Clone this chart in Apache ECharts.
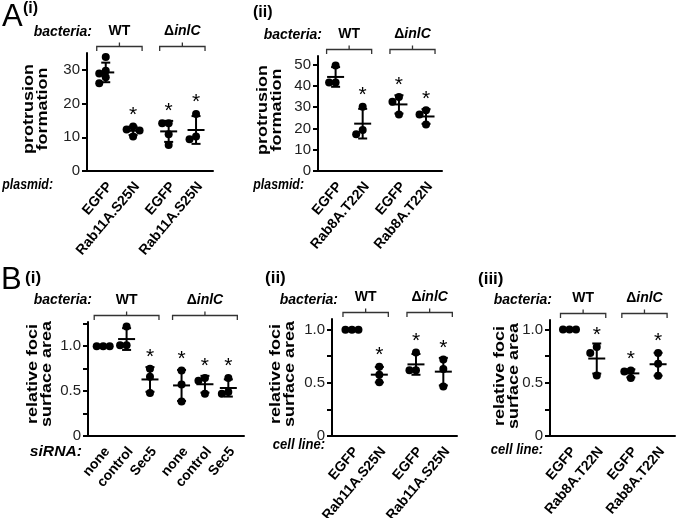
<!DOCTYPE html>
<html><head><meta charset="utf-8">
<script src="https://cdn.jsdelivr.net/npm/echarts@6/dist/echarts.min.js"></script>
<style>html,body{margin:0;padding:0;background:#fff}#c{width:677px;height:518px}</style>
</head><body><div id="c"></div>
<script>
// ---------------- data ----------------
const aiCategories = ['EGFP', 'Rab11A.S25N', 'EGFP', 'Rab11A.S25N'];
const aiValues = [[33.8, 29.7, 28.9, 27.8, 26.0], [13.2, 12.3, 12.0, 10.2], [14.2, 14.2, 10.9, 7.7], [16.9, 10.2, 9.4]];
const aiStars = [0, 1, 1, 1];
const aiYTicks = [0, 10, 20, 30];

const aiiCategories = ['EGFP', 'Rab8A.T22N', 'EGFP', 'Rab8A.T22N'];
const aiiValues = [[49.5, 41.5, 41.5], [30.2, 19.2, 17.3], [34.8, 32.5, 26.5], [28.5, 26.5, 21.8]];
const aiiStars = [0, 1, 1, 1];
const aiiYTicks = [0, 10, 20, 30, 40, 50];

const biCategories = ['none', 'control', 'Sec5', 'none', 'control', 'Sec5'];
const biValues = [[1, 1, 1], [1.22, 1.01, 1.01], [0.75, 0.66, 0.48], [0.73, 0.575, 0.385], [0.645, 0.615, 0.47], [0.645, 0.49, 0.47]];
const biStars = [0, 0, 1, 1, 1, 1];
const biYTicks = [0, 0.25, 0.5, 0.75, 1.0, 1.25];

const biiCategories = ['EGFP', 'Rab11A.S25N', 'EGFP', 'Rab11A.S25N'];
const biiValues = [[1, 1, 1], [0.65, 0.575, 0.505], [0.786, 0.617, 0.617], [0.72, 0.63, 0.465]];
const biiStars = [0, 1, 1, 1];

const biiiCategories = ['EGFP', 'Rab8A.T22N', 'EGFP', 'Rab8A.T22N'];
const biiiValues = [[1, 1, 1], [0.836, 0.78, 0.568], [0.615, 0.605, 0.545], [0.78, 0.678, 0.565]];
const biiiStars = [0, 1, 1, 1];

const bYTicks = [0, 0.25, 0.5, 0.75, 1.0];
const bYLabels = [0, 0.5, 1.0];
const bacteriaGroups = ['WT', 'ΔinlC'];
const yNameA = 'protrusion\nformation';
const yNameB = 'relative foci\nsurface area';

// ---------------- layout ----------------
const FONT = '"Liberation Sans", Arial, Helvetica, sans-serif';
const panels = [
  { cats: aiCategories, values: aiValues, stars: aiStars, yTicks: aiYTicks, yLabels: aiYTicks,
    left: 87, top: 53, width: 126, height: 118, xMin: 0.315, xMax: 4.92, yMax: 35,
    xPos: [1, 2, 3.3, 4.3], pairs: [[0, 1], [2, 3]], yName: yNameA, nameX: 36, nameY: 109 },
  { cats: aiiCategories, values: aiiValues, stars: aiiStars, yTicks: aiiYTicks, yLabels: aiiYTicks,
    left: 318, top: 56, width: 124, height: 115, xMin: 0.35, xMax: 4.93, yMax: 54,
    xPos: [1, 2, 3.34, 4.34], pairs: [[0, 1], [2, 3]], yName: yNameA, nameX: 270, nameY: 110 },
  { cats: biCategories, values: biValues, stars: biStars, yTicks: biYTicks, yLabels: bYLabels,
    left: 88, top: 322, width: 156, height: 114, xMin: 0.35, xMax: 7.02, yMax: 1.27,
    xPos: [1, 2, 3, 4.35, 5.35, 6.35], pairs: [[0, 2], [3, 5]], yName: yNameB, nameX: 40, nameY: 374 },
  { cats: biiCategories, values: biiValues, stars: biiStars, yTicks: bYTicks, yLabels: bYLabels,
    left: 332, top: 319, width: 125, height: 117, xMin: 0.27, xMax: 4.84, yMax: 1.1,
    xPos: [1, 2, 3.34, 4.34], pairs: [[0, 1], [2, 3]], yName: yNameB, nameX: 283, nameY: 374 },
  { cats: biiiCategories, values: biiiValues, stars: biiiStars, yTicks: bYTicks, yLabels: bYLabels,
    left: 550, top: 320, width: 125, height: 116, xMin: 0.285, xMax: 4.87, yMax: 1.09,
    xPos: [1, 2, 3.25, 4.25], pairs: [[0, 1], [2, 3]], yName: yNameB, nameX: 507, nameY: 376 }
];
const LABEL_SHIFT_PX = 4;

function mean(a) { return a.reduce((s, v) => s + v, 0) / a.length; }
function sd(a) { const m = mean(a); return Math.sqrt(a.reduce((s, v) => s + (v - m) * (v - m), 0) / (a.length - 1)); }

// simple swarm layout so coincident dots sit side by side
function swarm(vals, xc, p) {
  const sx = p.width / (p.xMax - p.xMin), sy = p.height / p.yMax, d = 6.5;
  const placed = [], out = [];
  vals.slice().sort((a, b) => b - a).forEach(v => {
    const py = v * sy;
    let chosen = 0;
    for (const c of [0, -d, d, -2 * d, 2 * d]) {
      if (placed.every(q => Math.hypot(q[0] - c, q[1] - py) >= d * 0.95)) { chosen = c; break; }
    }
    placed.push([chosen, py]);
    out.push([xc + chosen / sx, v]);
  });
  return out;
}

const grids = [], xAxes = [], yAxes = [], series = [], graphic = [];
panels.forEach((p, i) => {
  const sx = p.width / (p.xMax - p.xMin);
  const labelPos = p.xPos.map(x => x + LABEL_SHIFT_PX / sx);
  grids.push({ left: p.left, top: p.top, width: p.width, height: p.height, containLabel: false, outerBoundsMode: 'none' });
  xAxes.push({
    type: 'value', gridIndex: i, min: p.xMin, max: p.xMax,
    axisLine: { show: true, lineStyle: { color: '#000', width: 2 } },
    axisTick: { show: false },
    splitLine: { show: false },
    axisLabel: {
      customValues: labelPos, rotate: 50, margin: 13, color: '#000', fontWeight: 'bold', fontSize: 14, fontFamily: FONT,
      formatter: v => { let k = 0; labelPos.forEach((x, j) => { if (Math.abs(x - v) < Math.abs(labelPos[k] - v)) k = j; }); return p.cats[k]; }
    }
  });
  yAxes.push({
    type: 'value', gridIndex: i, min: 0, max: p.yMax,
    axisLine: { show: true, lineStyle: { color: '#000', width: 2 } },
    axisTick: { show: true, customValues: p.yTicks, length: 5, lineStyle: { color: '#000', width: 2 } },
    splitLine: { show: false },
    axisLabel: {
      customValues: p.yLabels, margin: 7, color: '#222', fontSize: 15, fontFamily: FONT,
      formatter: v => (v === 0 ? '0' : (p.yMax < 5 ? v.toFixed(1) : String(v)))
    }
  });
  // y-axis title (compact, rotated)
  graphic.push({ type: 'text', x: p.nameX, y: p.nameY, rotation: Math.PI / 2, scaleY: 0.8, silent: true,
    style: { text: p.yName, font: 'bold 18px ' + FONT, lineHeight: 18, fill: '#000', align: 'center', verticalAlign: 'middle' } });
  // dots
  const pts = [];
  p.values.forEach((vals, g) => swarm(vals, p.xPos[g], p).forEach(q => pts.push(q)));
  series.push({ type: 'scatter', xAxisIndex: i, yAxisIndex: i, data: pts, symbolSize: 8,
    itemStyle: { color: '#000', opacity: 1 }, z: 3, silent: true });
  // mean ± SD + significance star
  series.push({
    type: 'custom', xAxisIndex: i, yAxisIndex: i, clip: false, z: 4, silent: true,
    data: p.values.map((vals, g) => [p.xPos[g], mean(vals), sd(vals), Math.max(...vals), p.stars[g]]),
    renderItem: (params, api) => {
      const x = api.value(0), m = api.value(1), s = api.value(2), mx = api.value(3), st = api.value(4);
      const pm = api.coord([x, m]), pt = api.coord([x, m + s]), pb = api.coord([x, m - s]), pmax = api.coord([x, mx]);
      const style = { stroke: '#000', lineWidth: 2, fill: null };
      const ch = [
        { type: 'line', shape: { x1: pm[0], y1: pt[1], x2: pm[0], y2: pb[1] }, style },
        { type: 'line', shape: { x1: pm[0] - 4.5, y1: pt[1], x2: pm[0] + 4.5, y2: pt[1] }, style },
        { type: 'line', shape: { x1: pm[0] - 4.5, y1: pb[1], x2: pm[0] + 4.5, y2: pb[1] }, style },
        { type: 'line', shape: { x1: pm[0] - 8.5, y1: pm[1], x2: pm[0] + 8.5, y2: pm[1] }, style }
      ];
      if (st) {
        const top = Math.min(pt[1], pmax[1] - 4);
        ch.push({ type: 'text', style: { text: '*', x: pm[0], y: top + 3, align: 'center', verticalAlign: 'bottom',
          font: '21px ' + FONT, fill: '#000' } });
      }
      return { type: 'group', children: ch };
    }
  });
  // bacteria brackets
  series.push({
    type: 'custom', xAxisIndex: i, yAxisIndex: i, clip: false, z: 4, silent: true,
    data: p.pairs.map((pr, k) => [p.xPos[pr[0]], p.xPos[pr[1]], k]),
    renderItem: (params, api) => {
      const a = api.coord([api.value(0), p.yMax]), b = api.coord([api.value(1), p.yMax]);
      const k = api.value(2);
      const y = a[1] - 6.5, x1 = a[0] - 9, x2 = b[0] + 9, xc = (x1 + x2) / 2;
      const style = { stroke: '#333', lineWidth: 1.3, fill: null };
      const lbl = bacteriaGroups[k];
      const text = k === 1 ? '{d|Δ}{i|' + lbl.slice(1) + '}' : '{b|' + lbl + '}';
      return { type: 'group', children: [
        { type: 'polyline', shape: { points: [[x1, y + 4.5], [x1, y], [x2, y], [x2, y + 4.5]] }, style },
        { type: 'line', shape: { x1: xc, y1: y, x2: xc, y2: y - 4 }, style },
        { type: 'text', style: { text, x: xc, y: y - 15, align: 'center', verticalAlign: 'middle',
          rich: {
            b: { font: 'bold 14px ' + FONT, fill: '#000' },
            d: { font: 'bold 14px ' + FONT, fill: '#000' },
            i: { font: 'italic bold 14px ' + FONT, fill: '#000' }
          } } }
      ] };
    }
  });
});

function txt(text, x, y, font, align, sx) {
  return { type: 'text', x, y, scaleX: sx || 1, silent: true,
    style: { text, font: font + ' ' + FONT, fill: '#000', align: align || 'left', verticalAlign: 'middle' } };
}
graphic.push(
  txt('A', 2, 17, '31px'), txt('(i)', 23, 9, 'bold 16px'),
  txt('(ii)', 253, 13, 'bold 16px'),
  txt('B', 1, 280, '31px'), txt('(i)', 25, 278, 'bold 17px'),
  txt('(ii)', 265, 278, 'bold 17px'),
  txt('(iii)', 478, 279, 'bold 17px'),
  txt('bacteria:', 92, 32, 'italic bold 14px', 'right'),
  txt('bacteria:', 322, 35, 'italic bold 14px', 'right'),
  txt('bacteria:', 92, 300, 'italic bold 14px', 'right'),
  txt('bacteria:', 338, 300, 'italic bold 14px', 'right'),
  txt('bacteria:', 552, 300, 'italic bold 14px', 'right'),
  txt('plasmid:', 53, 185, 'italic bold 14.5px', 'right', 0.85),
  txt('plasmid:', 304, 185, 'italic bold 14.5px', 'right', 0.85),
  txt('siRNA:', 82, 452, 'italic bold 14.5px', 'right', 1.08),
  txt('cell line:', 325, 445, 'italic bold 14.5px', 'right', 0.9),
  txt('cell line:', 543, 450, 'italic bold 14.5px', 'right', 0.9)
);

const chart = echarts.init(document.getElementById('c'), null, { renderer: 'canvas' });
chart.setOption({
  animation: false,
  backgroundColor: '#fff',
  textStyle: { fontFamily: FONT },
  grid: grids, xAxis: xAxes, yAxis: yAxes, series, graphic
});
</script></body></html>
